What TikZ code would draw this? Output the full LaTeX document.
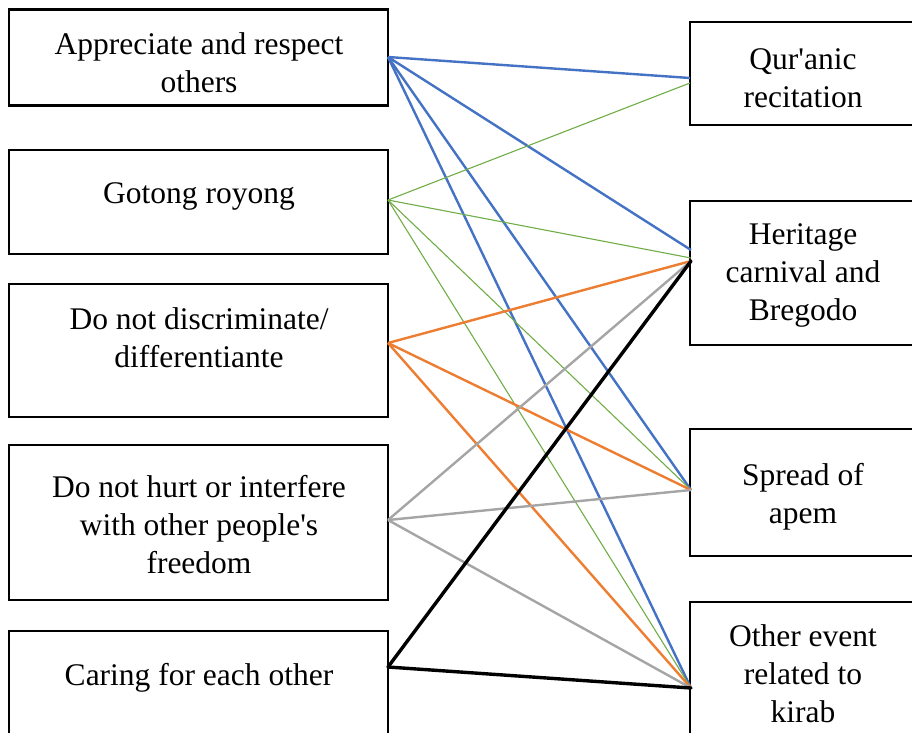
\documentclass[tikz,border=0pt]{standalone}
\usepackage{fontspec}
\setmainfont{Liberation Serif}
\definecolor{cblue}{HTML}{4472C4}
\definecolor{cgreen}{HTML}{70AD47}
\definecolor{corange}{HTML}{ED7D31}
\definecolor{cgray}{HTML}{A5A5A5}
\begin{document}
\begin{tikzpicture}[x=1pt,y=-1pt,
  boxnode/.style={draw=black,line width=2.4pt,rectangle,inner sep=0pt},
  txt/.style={font=\fontsize{31.5}{38}\selectfont,align=center,inner sep=0pt},
  lblue/.style={draw=cblue,line width=2.4pt},
  lgreen/.style={draw=cgreen,line width=1.1pt},
  lorange/.style={draw=corange,line width=2.4pt},
  lgray/.style={draw=cgray,line width=2.4pt},
  lblack/.style={draw=black,line width=3.4pt,line cap=round}]
\clip (0,0) rectangle (912,732);
% left boxes
\node[boxnode,minimum width=379pt,minimum height=96pt] (L1) at (198.5,57.5) {};
\node[boxnode,minimum width=379pt,minimum height=104pt] (L2) at (198.5,202) {};
\node[boxnode,minimum width=379pt,minimum height=133pt] (L3) at (198.5,350.5) {};
\node[boxnode,minimum width=379pt,minimum height=155pt] (L4) at (198.5,522.5) {};
\node[boxnode,minimum width=379pt,minimum height=133pt] (L5) at (198.5,697.5) {};
% right boxes
\node[boxnode,minimum width=232pt,minimum height=103pt] (R1) at (806,73.5) {};
\node[boxnode,minimum width=232pt,minimum height=144pt] (R2) at (806,273) {};
\node[boxnode,minimum width=232pt,minimum height=127pt] (R3) at (806,492.5) {};
\node[boxnode,minimum width=232pt,minimum height=144pt] (R4) at (806,674) {};
% texts
\node[txt] (t1) at (199,63) {Appreciate and respect\\others};
\node[txt] (t2) at (199,196) {Gotong royong};
\node[txt] (t3) at (199,338) {Do not discriminate/\\differentiante};
\node[txt] (t4) at (199,525) {Do not hurt or interfere\\with other people\textquotesingle s\\freedom};
\node[txt] (t5) at (199,678) {Caring for each other};
\node[txt] (t6) at (803,78) {Qur\textquotesingle anic\\recitation};
\node[txt] (t7) at (803,275) {Heritage\\carnival and\\Bregodo};
\node[txt] (t8) at (803,497) {Spread of\\apem};
\node[txt] (t9) at (803,674) {Other event\\related to\\kirab};
% connector endpoints
\coordinate (a1) at (388,57);
\coordinate (a2) at (388,200);
\coordinate (a3) at (388,343);
\coordinate (a4) at (388,520);
\coordinate (a5) at (388,667);
\coordinate (b1) at (690,78);
\coordinate (b1g) at (690,83);
\coordinate (b2) at (691,250);
\coordinate (b2g) at (691,258);
\coordinate (b2o) at (691,261);
\coordinate (b3) at (691,490);
\coordinate (b4) at (691,688);
% blue
\draw[lblue] (a1) -- (b1);
\draw[lblue] (a1) -- (b2);
\draw[lblue] (a1) -- (b3);
\draw[lblue] (a1) -- (b4);
% green
\draw[lgreen] (a2) -- (b1g);
\draw[lgreen] (a2) -- (b2g);
\draw[lgreen] (a2) -- (b3);
\draw[lgreen] (a2) -- (b4);
% orange
\draw[lorange] (a3) -- (b2o);
\draw[lorange] (a3) -- (b3);
\draw[lorange] (a3) -- (b4);
% gray
\draw[lgray] (a4) -- (b2o);
\draw[lgray] (a4) -- (b3);
\draw[lgray] (a4) -- (b4);
% black
\draw[lblack] (a5) -- (b2o);
\draw[lblack] (a5) -- (b4);
\end{tikzpicture}
\end{document}
